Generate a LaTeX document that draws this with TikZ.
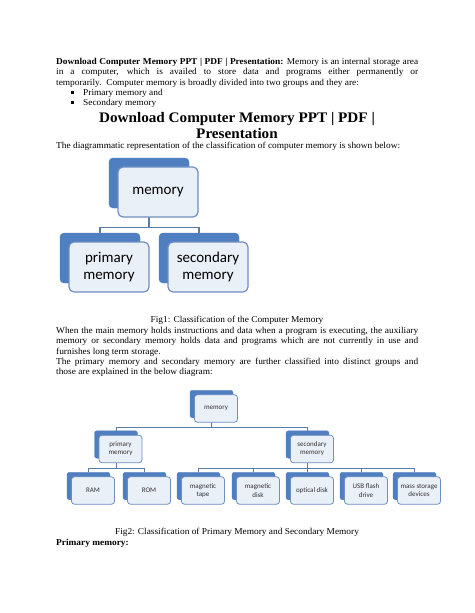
\documentclass[tikz,border=0pt]{standalone}
\usepackage{fontspec}
\setmainfont{Liberation Serif}[FakeStretch=1.04]
\newfontfamily\diag{Carlito}
\definecolor{backblue}{HTML}{4F7FC0}
\definecolor{frontfill}{HTML}{EAF0F8}
\definecolor{frontline}{HTML}{6F8FBF}
\definecolor{connline}{HTML}{5A7DA8}
\definecolor{txtgray}{HTML}{333333}
\tikzset{
  bodytext/.style={anchor=base west, inner sep=0pt, font=\fontsize{9}{10.5}\selectfont},
  centtext/.style={anchor=base, inner sep=0pt, font=\fontsize{9}{10.5}\selectfont},
  headtext/.style={anchor=base, inner sep=0pt, font=\bfseries\fontsize{14.6}{16}\selectfont},
  bulletsq/.style={fill=black, minimum size=2.4pt, inner sep=0pt},
  backA/.style={fill=backblue, draw=backblue, rounded corners=4pt, minimum width=80pt, minimum height=50pt, inner sep=0pt},
  frontA/.style={fill=frontfill, draw=frontline, line width=1.2pt, rounded corners=5pt, minimum width=80pt, minimum height=50pt, inner sep=0pt, align=center, text=black, font=\diag\fontsize{15}{17}\selectfont},
  connA/.style={draw=connline, line width=1.1pt},
  backB/.style={fill=backblue, draw=backblue, rounded corners=2.5pt, minimum width=43pt, minimum height=27.5pt, inner sep=0pt},
  frontB/.style={fill=frontfill, draw=frontline, line width=0.8pt, rounded corners=3pt, minimum width=43pt, minimum height=27.5pt, inner sep=0pt, align=center, text=txtgray, font=\diag\fontsize{7}{8.2}\selectfont},
  connB/.style={draw=connline, line width=0.8pt},
}
\begin{document}
\begin{tikzpicture}[x=1pt,y=-1pt]
\useasboundingbox[fill=white] (0,0) rectangle (474,613);
% ---- text above ----
\node[bodytext] (l1) at (56,64) {\makebox[362pt][s]{\textbf{Download Computer Memory PPT | PDF | Presentation:} Memory is an internal storage area}};
\node[bodytext] (l2) at (56,74.5) {\makebox[362pt][s]{in a computer, which is availed to store data and programs either permanently or}};
\node[bodytext] (l3) at (56,85) {temporarily.\ \ Computer memory is broadly divided into two groups and they are:};
\node[bulletsq] (bu1) at (72.5,92.5) {};
\node[bodytext] (b1) at (83,95.5) {Primary memory and};
\node[bulletsq] (bu2) at (72.5,102.5) {};
\node[bodytext] (b2) at (83,105.5) {Secondary memory};
\node[headtext] (h1) at (237,122.5) {Download Computer Memory PPT | PDF |};
\node[headtext] (h2) at (237,138.3) {Presentation};
\node[bodytext] (l4) at (56,148.8) {The diagrammatic representation of the classification of computer memory is shown below:};
% ---- diagram 1 ----
\node[backA] (m1b) at (149,183) {};
\node[backA] (p1b) at (100,258) {};
\node[backA] (s1b) at (199,258) {};
\draw[connA] (m1b.south) -- ++(0,19) -| (p1b.north);
\draw[connA] (m1b.south) -- ++(0,19) -| (s1b.north);
\node[frontA] (m1) at (158,192) {memory};
\node[frontA] (p1) at (109,267) {primary\\memory};
\node[frontA] (s1) at (208,267) {secondary\\memory};
% ---- middle text ----
\node[centtext] (f1) at (237,322.5) {Fig1: Classification of the Computer Memory};
\node[bodytext] (l5) at (56,333) {\makebox[362pt][s]{When the main memory holds instructions and data when a program is executing, the auxiliary}};
\node[bodytext] (l6) at (56,343.5) {\makebox[362pt][s]{memory or secondary memory holds data and programs which are not currently in use and}};
\node[bodytext] (l7) at (56,354) {furnishes long term storage.};
\node[bodytext] (l8) at (56,364) {\makebox[362pt][s]{The primary memory and secondary memory are further classified into distinct groups and}};
\node[bodytext] (l9) at (56,374.5) {those are explained in the below diagram:};
% ---- diagram 2 ----
\node[backB] (m2b) at (211.5,404) {};
\node[backB] (p2b) at (116,444.5) {};
\node[backB] (s2b) at (307.5,444.5) {};
\node[backB] (rab) at (88.5,486) {};
\node[backB] (rob) at (144.5,486) {};
\node[backB] (mtb) at (198.5,486) {};
\node[backB] (mdb) at (253.5,486) {};
\node[backB] (odb) at (307.5,486) {};
\node[backB] (ufb) at (361.5,486) {};
\node[backB] (msb) at (414.5,486) {};
\draw[connB] (m2b.south) -- ++(0,9) -| (p2b.north);
\draw[connB] (m2b.south) -- ++(0,9) -| (s2b.north);
\draw[connB] (p2b.south) -- ++(0,9.5) -| (rab.north);
\draw[connB] (p2b.south) -- ++(0,9.5) -| (rob.north);
\draw[connB] (s2b.south) -- ++(0,9.5) -| (mtb.north);
\draw[connB] (s2b.south) -- ++(0,9.5) -| (mdb.north);
\draw[connB] (s2b.south) -- ++(0,9.5) -| (odb.north);
\draw[connB] (s2b.south) -- ++(0,9.5) -| (ufb.north);
\draw[connB] (s2b.south) -- ++(0,9.5) -| (msb.north);
\node[frontB] (m2) at (216,408.5) {memory};
\node[frontB] (p2) at (120.5,449) {primary\\memory};
\node[frontB] (s2) at (312,449) {secondary\\memory};
\node[frontB] (ra) at (93,490.5) {RAM};
\node[frontB] (ro) at (149,490.5) {ROM};
\node[frontB] (mt) at (203,490.5) {magnetic\\tape};
\node[frontB] (md) at (258,490.5) {magnetic\\disk};
\node[frontB] (od) at (312,490.5) {optical disk};
\node[frontB] (uf) at (366,490.5) {USB flash\\drive};
\node[frontB] (ms) at (419,490.5) {mass storage\\devices};
% ---- bottom text ----
\node[centtext] (f2) at (237,534) {Fig2: Classification of Primary Memory and Secondary Memory};
\node[bodytext] (l10) at (56,545) {\textbf{Primary memory:}};
\end{tikzpicture}
\end{document}
